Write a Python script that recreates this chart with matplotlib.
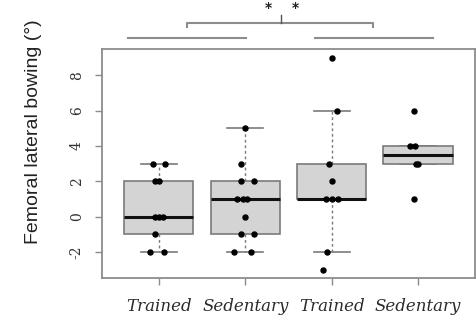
import numpy as np
import matplotlib
matplotlib.use("Agg")
import matplotlib.pyplot as plt

# --- Data ---
groups = ["Trained", "Sedentary", "Trained", "Sedentary"]
trained_a = [3, 3, 2, 2, 0, 0, 0, -1, -2, -2]
sedentary_a = [5, 3, 2, 2, 1, 1, 1, 0, -1, -1, -2, -2]
trained_b = [9, 6, 3, 2, 1, 1, 1, -2, -3]
sedentary_b = [6, 4, 4, 3, 3, 1]

# small horizontal offsets of the overlaid points (as seen in the plot)
jit_trained_a = [-0.07, 0.07, -0.04, 0.0, -0.05, 0.0, 0.05, -0.04, -0.1, 0.06]
jit_sedentary_a = [0.0, -0.05, -0.05, 0.1, -0.09, -0.03, 0.02, 0.0, -0.05, 0.1, -0.13, 0.07]
jit_trained_b = [0.0, 0.06, -0.03, 0.0, -0.07, 0.0, 0.07, -0.05, -0.1]
jit_sedentary_b = [-0.05, -0.09, -0.04, 0.0, -0.02, -0.05]

data = [trained_a, sedentary_a, trained_b, sedentary_b]
jitter = [jit_trained_a, jit_sedentary_a, jit_trained_b, jit_sedentary_b]


def tukey_stats(values):
    # R style boxplot stats (hinges from fivenum)
    x = np.sort(np.asarray(values, dtype=float))
    n = len(x)
    med = np.median(x)
    half = (n + 1) // 2
    q1 = np.median(x[:half])
    q3 = np.median(x[n - half:])
    iqr = q3 - q1
    lo = x[x >= q1 - 1.5 * iqr].min()
    hi = x[x <= q3 + 1.5 * iqr].max()
    return {"med": med, "q1": q1, "q3": q3, "whislo": lo, "whishi": hi,
            "fliers": []}


stats = [tukey_stats(v) for v in data]
positions = np.arange(1, len(data) + 1)

grey = "#8c8c8c"
fig = plt.figure(figsize=(4.76, 3.23), dpi=100)
ax = fig.add_axes([0.214, 0.139, 0.784, 0.709])

ax.bxp(stats, positions=positions, widths=0.8, patch_artist=True,
       showfliers=False,
       boxprops=dict(facecolor="#d4d4d4", edgecolor="#7a7a7a", linewidth=1.2,
                     zorder=2),
       medianprops=dict(color="#111111", linewidth=2.2, zorder=3),
       whiskerprops=dict(color="#7a7a7a", linewidth=1.0, linestyle=(0, (2, 2)),
                         zorder=1),
       capprops=dict(color="#7a7a7a", linewidth=1.2, zorder=1),
       capwidths=0.42)

for pos, vals, jit in zip(positions, data, jitter):
    ax.plot(pos + np.asarray(jit), vals, "o", color="black",
            markersize=3.6, zorder=4)

ax.set_xlim(0.34, 4.66)
ax.set_ylim(-3.48, 9.48)
ax.tick_params(axis="both", colors=grey, length=5, width=1.0)
ax.tick_params(axis="x", pad=9)
ax.tick_params(axis="y", pad=8)
ax.set_xticks(positions)
ax.set_xticklabels(groups, family="DejaVu Serif", style="italic",
                   fontsize=12, color="#2a2a2a")
ax.set_yticks([-2, 0, 2, 4, 6, 8])
ax.set_yticklabels(["-2", "0", "2", "4", "6", "8"], family="DejaVu Serif",
                   fontsize=10, color="#333333", rotation=90, va="center")
for spine in ax.spines.values():
    spine.set_color(grey)
    spine.set_linewidth(1.3)

ax.set_ylabel("Femoral lateral bowing (\u00b0)", family="Liberation Sans",
              fontsize=14, color="#222222")
ax.yaxis.set_label_coords(-0.16, 0.64)

# --- significance annotation above the plot ---
ann = dict(color=grey, linewidth=1.5, clip_on=False)
ax.plot([0.64, 2.01], [10.1, 10.1], **ann)
ax.plot([2.81, 4.17], [10.1, 10.1], **ann)
ax.plot([1.325, 1.325, 3.48, 3.48], [10.73, 10.96, 10.96, 10.73], **ann)
ax.plot([2.41, 2.41], [10.96, 11.4], color="#555555", linewidth=1.0,
        clip_on=False)
ax.text(2.27, 11.8, "*", ha="center", va="center", fontsize=10,
        fontweight="bold", color="#222222")
ax.text(2.58, 11.8, "*", ha="center", va="center", fontsize=10,
        fontweight="bold", color="#222222")

fig.savefig("out.png", dpi=100)
